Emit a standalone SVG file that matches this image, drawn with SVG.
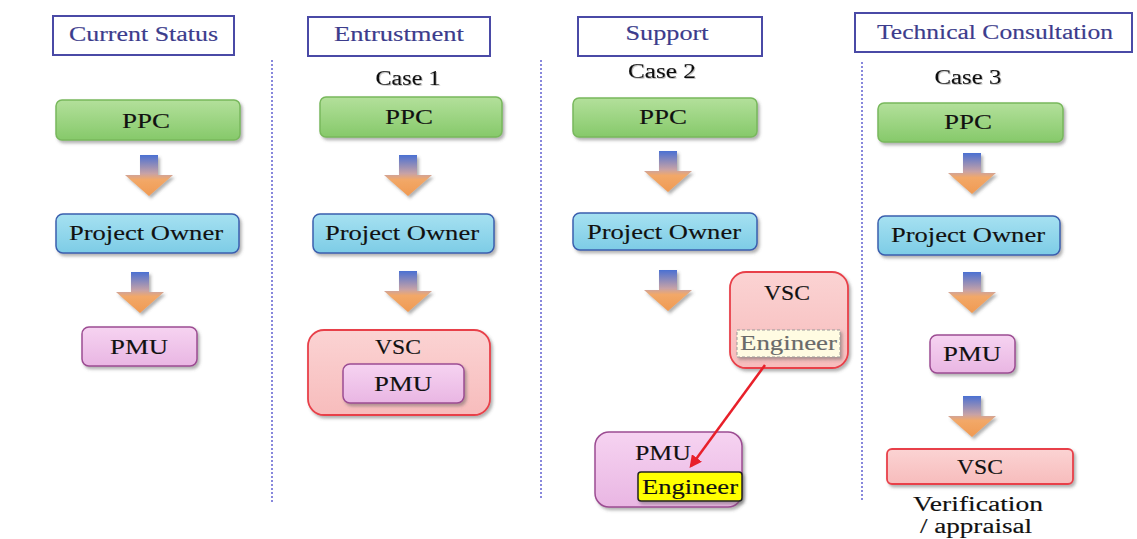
<svg xmlns="http://www.w3.org/2000/svg" width="1137" height="539" viewBox="0 0 1137 539" font-family="'Liberation Serif', 'DejaVu Serif', serif">
  <defs>
    <filter id="shadow" x="-20%" y="-20%" width="140%" height="150%">
      <feDropShadow dx="2" dy="2.5" stdDeviation="1.6" flood-color="#555" flood-opacity="0.45"/>
    </filter>
    <filter id="txtShadow" x="-10%" y="-20%" width="120%" height="150%">
      <feDropShadow dx="1" dy="1" stdDeviation="0.6" flood-color="#888" flood-opacity="0.5"/>
    </filter>
    <linearGradient id="gGreen" x1="0" y1="0" x2="0" y2="1">
      <stop offset="0" stop-color="#b3e09b"/>
      <stop offset="1" stop-color="#86c96a"/>
    </linearGradient>
    <linearGradient id="gCyan" x1="0" y1="0" x2="0" y2="1">
      <stop offset="0" stop-color="#a6e1f1"/>
      <stop offset="1" stop-color="#7dcce6"/>
    </linearGradient>
    <linearGradient id="gPink" x1="0" y1="0" x2="0" y2="1">
      <stop offset="0" stop-color="#f6d3f1"/>
      <stop offset="1" stop-color="#e9b6e3"/>
    </linearGradient>
    <linearGradient id="gRed" x1="0" y1="0" x2="0" y2="1">
      <stop offset="0" stop-color="#fbd3d3"/>
      <stop offset="1" stop-color="#f7bcbc"/>
    </linearGradient>
    <linearGradient id="gArrow" x1="0" y1="0" x2="0" y2="1">
      <stop offset="0" stop-color="#4a70d2"/>
      <stop offset="0.45" stop-color="#c7a2a6"/>
      <stop offset="0.6" stop-color="#f2a868"/>
      <stop offset="1" stop-color="#f09a52"/>
    </linearGradient>
    <!-- block arrow pointing down, top-centre at origin -->
    <path id="blockArrow" d="M-9,0 H9 V20 H24 L0,41 L-24,20 H-9 Z" fill="url(#gArrow)"/>
    <marker id="redHead" viewBox="0 0 10 10" refX="8" refY="5" markerWidth="5" markerHeight="5" orient="auto">
      <path d="M0,0 L10,5 L0,10 Z" fill="#e8202a"/>
    </marker>
    <style>
      text { font-family: "Liberation Serif", "DejaVu Serif", serif; }
      .hdrText { font-size: 20px; fill: #3c3c8c; text-anchor: middle; stroke: #3c3c8c; stroke-width: 0.15; }
      .case { font-size: 20px; fill: #111; text-anchor: middle; stroke: #111; stroke-width: 0.15; }
      .lbl { font-size: 22px; fill: #111; text-anchor: middle; stroke: #111; stroke-width: 0.15; }
      .hdr { fill: #ffffff; stroke: #4a4aa6; stroke-width: 2; }
      .ppc { fill: url(#gGreen); stroke: #78b85c; stroke-width: 1.5; }
      .owner { fill: url(#gCyan); stroke: #3b5fae; stroke-width: 1.5; }
      .pmu { fill: url(#gPink); stroke: #9c4c92; stroke-width: 1.5; }
      .vsc { fill: url(#gRed); stroke: #e8414a; stroke-width: 1.8; }
      .sep { stroke: #6b6bd4; stroke-width: 1.6; stroke-dasharray: 2 2; fill: none; }
      .arrowShape { filter: url(#shadow); }
      .greyText { fill: #6a6a6a; stroke: #6a6a6a; }
    </style>
  </defs>

  <rect width="1137" height="539" fill="#ffffff"/>

  <!-- column separators -->
  <g id="separators">
    <line class="sep" x1="272" y1="60" x2="272" y2="502"/>
    <line class="sep" x1="541" y1="60" x2="541" y2="500"/>
    <line class="sep" x1="862" y1="62" x2="862" y2="500"/>
  </g>

  <!-- column headers -->
  <g id="hdr-current">
    <rect class="hdr" x="53" y="16" width="181" height="39"/>
    <text class="hdrText" x="143.5" y="41" textLength="149" lengthAdjust="spacingAndGlyphs">Current Status</text>
  </g>
  <g id="hdr-entrustment">
    <rect class="hdr" x="308" y="17" width="182" height="39"/>
    <text class="hdrText" x="399" y="41" textLength="130" lengthAdjust="spacingAndGlyphs">Entrustment</text>
  </g>
  <g id="hdr-support">
    <rect class="hdr" x="578" y="17" width="184" height="39"/>
    <text class="hdrText" x="667" y="40" textLength="83" lengthAdjust="spacingAndGlyphs">Support</text>
  </g>
  <g id="hdr-technical">
    <rect class="hdr" x="855" y="13" width="277" height="39"/>
    <text class="hdrText" x="995" y="39" textLength="236" lengthAdjust="spacingAndGlyphs">Technical Consultation</text>
  </g>

  <!-- case labels -->
  <g id="case-labels" filter="url(#txtShadow)">
    <text class="case" x="408" y="85" textLength="65" lengthAdjust="spacingAndGlyphs">Case 1</text>
    <text class="case" x="662" y="78" textLength="68" lengthAdjust="spacingAndGlyphs">Case 2</text>
    <text class="case" x="968" y="84" textLength="67" lengthAdjust="spacingAndGlyphs">Case 3</text>
  </g>

  <!-- column 1: current status -->
  <g id="c1-ppc">
    <rect class="ppc" x="56" y="100" width="184" height="40" rx="6" filter="url(#shadow)"/>
    <text class="lbl" x="146" y="128" textLength="48" lengthAdjust="spacingAndGlyphs">PPC</text>
  </g>
  <g id="c1-owner">
    <rect class="owner" x="56" y="214" width="183" height="39" rx="7" filter="url(#shadow)"/>
    <text class="lbl" x="146" y="240" textLength="154" lengthAdjust="spacingAndGlyphs">Project Owner</text>
  </g>
  <g id="c1-pmu">
    <rect class="pmu" x="82" y="327" width="115" height="39" rx="7" filter="url(#shadow)"/>
    <text class="lbl" x="139" y="354" textLength="58" lengthAdjust="spacingAndGlyphs">PMU</text>
  </g>

  <!-- column 2: entrustment -->
  <g id="c2-ppc">
    <rect class="ppc" x="320" y="97" width="182" height="40" rx="6" filter="url(#shadow)"/>
    <text class="lbl" x="409" y="124" textLength="48" lengthAdjust="spacingAndGlyphs">PPC</text>
  </g>
  <g id="c2-owner">
    <rect class="owner" x="313" y="214" width="181" height="39" rx="7" filter="url(#shadow)"/>
    <text class="lbl" x="402" y="240" textLength="154" lengthAdjust="spacingAndGlyphs">Project Owner</text>
  </g>
  <g id="c2-vsc">
    <rect class="vsc" x="308" y="330" width="182" height="85" rx="16" filter="url(#shadow)"/>
    <text class="lbl" x="398" y="354" textLength="46" lengthAdjust="spacingAndGlyphs">VSC</text>
  </g>
  <g id="c2-pmu">
    <rect class="pmu" x="343" y="364" width="121" height="39" rx="7" filter="url(#shadow)"/>
    <text class="lbl" x="403" y="391" textLength="58" lengthAdjust="spacingAndGlyphs">PMU</text>
  </g>

  <!-- column 3: support -->
  <g id="c3-ppc">
    <rect class="ppc" x="573" y="98" width="184" height="39" rx="6" filter="url(#shadow)"/>
    <text class="lbl" x="663" y="124" textLength="48" lengthAdjust="spacingAndGlyphs">PPC</text>
  </g>
  <g id="c3-owner">
    <rect class="owner" x="573" y="213" width="184" height="37" rx="7" filter="url(#shadow)"/>
    <text class="lbl" x="664" y="239" textLength="154" lengthAdjust="spacingAndGlyphs">Project Owner</text>
  </g>
  <g id="c3-vsc">
    <rect class="vsc" x="730" y="272" width="118" height="96" rx="16" filter="url(#shadow)"/>
    <text class="lbl" x="787" y="300" textLength="46" lengthAdjust="spacingAndGlyphs">VSC</text>
    <rect x="737" y="330" width="103" height="27" fill="#fffbe2" stroke="#9a9a9a" stroke-width="1" stroke-dasharray="3 2" filter="url(#shadow)"/>
    <text class="lbl greyText" x="788.5" y="350" textLength="97" lengthAdjust="spacingAndGlyphs">Engineer</text>
  </g>
  <g id="c3-pmu">
    <rect class="pmu" x="595" y="432" width="147" height="75" rx="14" filter="url(#shadow)"/>
    <text class="lbl" x="663" y="460" textLength="56" lengthAdjust="spacingAndGlyphs">PMU</text>
    <rect x="638" y="472" width="104" height="29" rx="3" fill="#ffff00" stroke="#222" stroke-width="1.5" filter="url(#shadow)"/>
    <text class="lbl" x="690" y="494" textLength="96" lengthAdjust="spacingAndGlyphs">Engineer</text>
  </g>

  <!-- column 4: technical consultation -->
  <g id="c4-ppc">
    <rect class="ppc" x="878" y="103" width="185" height="39" rx="6" filter="url(#shadow)"/>
    <text class="lbl" x="968" y="129" textLength="48" lengthAdjust="spacingAndGlyphs">PPC</text>
  </g>
  <g id="c4-owner">
    <rect class="owner" x="878" y="216" width="182" height="39" rx="7" filter="url(#shadow)"/>
    <text class="lbl" x="968" y="242" textLength="154" lengthAdjust="spacingAndGlyphs">Project Owner</text>
  </g>
  <g id="c4-pmu">
    <rect class="pmu" x="930" y="335" width="85" height="38" rx="7" filter="url(#shadow)"/>
    <text class="lbl" x="972" y="361" textLength="58" lengthAdjust="spacingAndGlyphs">PMU</text>
  </g>
  <g id="c4-vsc">
    <rect class="vsc" x="887" y="449" width="186" height="35" rx="5" filter="url(#shadow)"/>
    <text class="lbl" x="980" y="474" textLength="46" lengthAdjust="spacingAndGlyphs">VSC</text>
  </g>
  <g id="c4-note">
    <text class="case" x="978" y="511" textLength="130" lengthAdjust="spacingAndGlyphs">Verification</text>
    <text class="case" x="976" y="533" textLength="112" lengthAdjust="spacingAndGlyphs">/ appraisal</text>
  </g>

  <!-- connectors -->
  <g id="connectors">
    <use href="#blockArrow" x="149" y="155" class="arrowShape"/>
    <use href="#blockArrow" x="140" y="272" class="arrowShape"/>
    <use href="#blockArrow" x="408" y="155" class="arrowShape"/>
    <use href="#blockArrow" x="408" y="271" class="arrowShape"/>
    <use href="#blockArrow" x="668" y="151" class="arrowShape"/>
    <use href="#blockArrow" x="668" y="270" class="arrowShape"/>
    <use href="#blockArrow" x="972" y="153" class="arrowShape"/>
    <use href="#blockArrow" x="972" y="272" class="arrowShape"/>
    <use href="#blockArrow" x="972" y="396" class="arrowShape"/>
    <line x1="765" y1="365" x2="691" y2="466" stroke="#e8202a" stroke-width="2.5" marker-end="url(#redHead)"/>
  </g>
</svg>
